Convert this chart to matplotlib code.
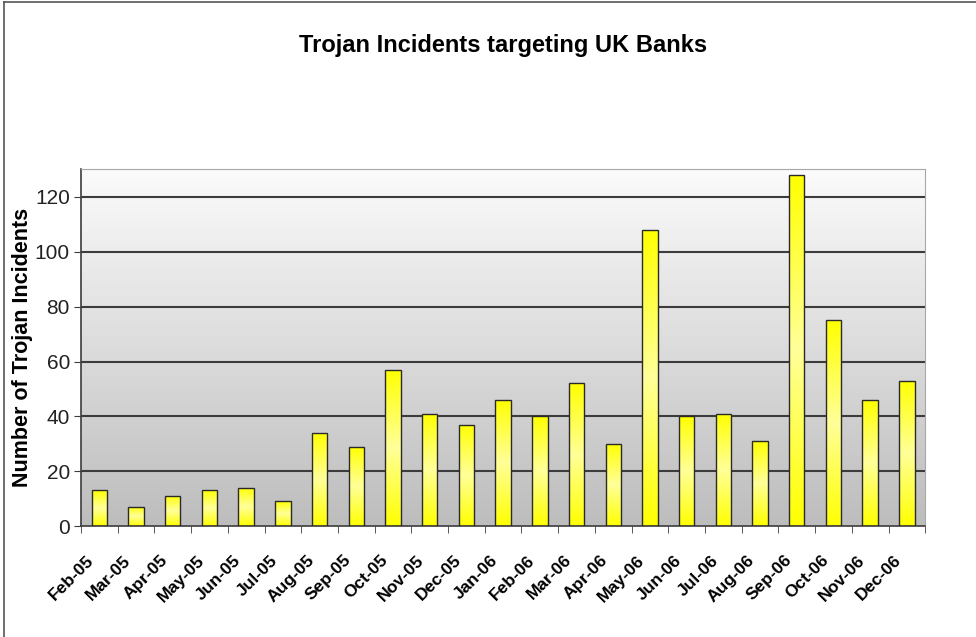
import numpy as np
import matplotlib.pyplot as plt
import matplotlib.transforms as mtransforms
from matplotlib.lines import Line2D
from matplotlib.colors import LinearSegmentedColormap

# monthly trojan incidents
months = ['Feb-05', 'Mar-05', 'Apr-05', 'May-05', 'Jun-05', 'Jul-05', 'Aug-05',
          'Sep-05', 'Oct-05', 'Nov-05', 'Dec-05', 'Jan-06', 'Feb-06', 'Mar-06',
          'Apr-06', 'May-06', 'Jun-06', 'Jul-06', 'Aug-06', 'Sep-06', 'Oct-06',
          'Nov-06', 'Dec-06']
incidents = [13, 7, 11, 13, 14, 9, 34, 29, 57, 41, 37, 46, 40, 52, 30, 108,
             40, 41, 31, 128, 75, 46, 53]
y_ticks = [0, 20, 40, 60, 80, 100, 120]

plt.rcParams['font.family'] = ['Liberation Sans', 'DejaVu Sans']

fig = plt.figure(figsize=(9.76, 6.37), dpi=100)
ax = fig.add_axes([0.083, 0.174, 0.865, 0.560])

n = len(months)
x = np.arange(n)

# grey gradient background
bg = np.linspace(0, 1, 256).reshape(-1, 1)
bg_cmap = LinearSegmentedColormap.from_list('bg', ['#bdbdbd', '#fbfbfb'])
ax.imshow(bg, cmap=bg_cmap, aspect='auto', origin='lower',
          extent=[-0.5, n - 0.5, 0, 130], zorder=0)

# gridlines
for yv in y_ticks[1:]:
    ax.axhline(yv, color='#3c3c3c', lw=1.5, zorder=1)

# bars with yellow gradient
bars = ax.bar(x, incidents, width=0.42, facecolor='none',
              edgecolor='#2a2a2a', linewidth=1.0, zorder=3)
bar_cmap = LinearSegmentedColormap.from_list(
    'bar', ['#ffff00', '#ffff99', '#ffff00'])
grad = np.linspace(0, 1, 256).reshape(-1, 1)
for b in bars:
    bx, by = b.get_x(), b.get_y()
    bw, bh = b.get_width(), b.get_height()
    im = ax.imshow(grad, cmap=bar_cmap, aspect='auto', origin='lower',
                   extent=[bx, bx + bw, by, by + bh], zorder=2)
    im.set_clip_path(b)

ax.set_xlim(-0.5, n - 0.5)
ax.set_ylim(0, 130)

# spines
for side in ['left', 'bottom']:
    ax.spines[side].set_color('#3c3c3c')
    ax.spines[side].set_linewidth(1.2)
ax.spines['top'].set_color('#a8a8a8')
ax.spines['right'].set_color('#a8a8a8')

# ticks
ax.set_yticks(y_ticks)
ax.tick_params(axis='y', direction='out', length=5, color='#3c3c3c',
               labelsize=15, pad=3, labelcolor='#222222')
ax.set_xticks(x)
ax.set_xticklabels(months, rotation=45, ha='right', rotation_mode='anchor',
                   fontsize=12.5, fontweight='bold')
ax.tick_params(axis='x', length=0, pad=19)
shift = mtransforms.ScaledTranslation(-13 / 100, 0, fig.dpi_scale_trans)
for lbl in ax.get_xticklabels():
    lbl.set_transform(lbl.get_transform() + shift)
ax.set_xticks(np.arange(-0.5, n, 1), minor=True)
ax.tick_params(axis='x', which='minor', direction='out', length=5,
               color='#3c3c3c')

ax.set_ylabel('Number of Trojan Incidents', fontsize=15.5, fontweight='bold')
ax.yaxis.set_label_coords(-0.057, 0.5)

fig.text(0.515, 0.929, 'Trojan Incidents targeting UK Banks', ha='center',
         va='center', fontsize=17, fontweight='bold')

# frame of the chart area
fig.add_artist(Line2D([0.004, 0.004], [0, 0.997], transform=fig.transFigure,
                      color='#555555', lw=1.2))
fig.add_artist(Line2D([0.004, 1], [0.997, 0.997], transform=fig.transFigure,
                      color='#555555', lw=1.2))

fig.savefig('out.png', dpi=100)
